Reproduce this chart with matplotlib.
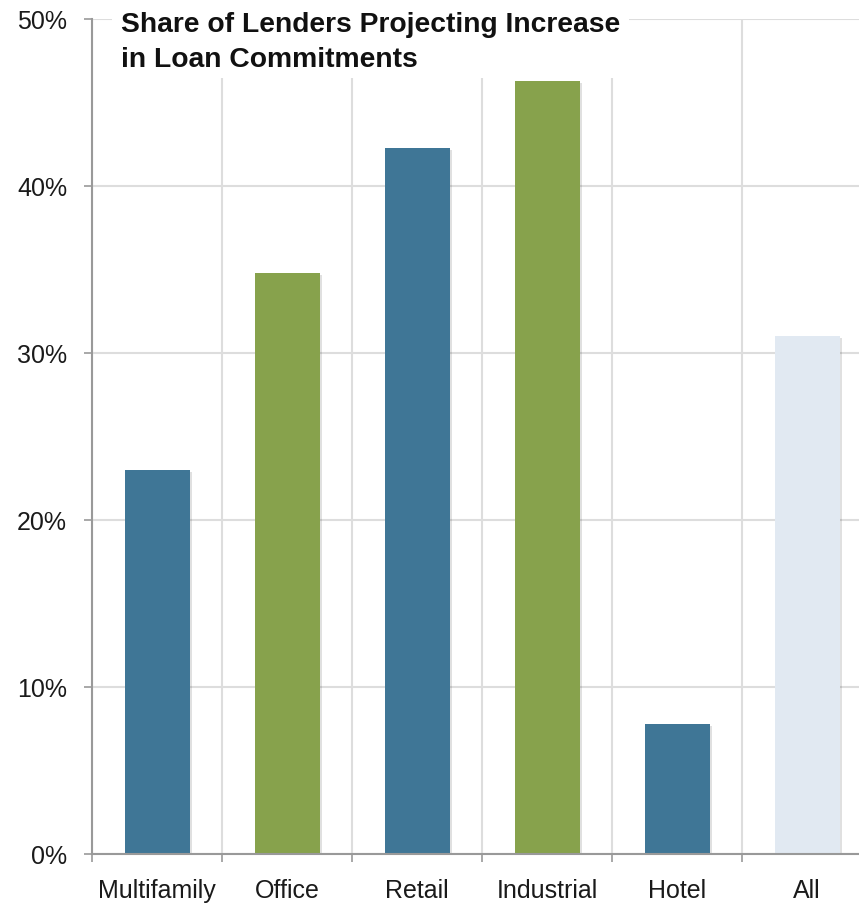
import matplotlib.pyplot as plt
import matplotlib.patheffects as pe
from matplotlib.patches import Rectangle
from matplotlib.ticker import FixedLocator

categories = ["Multifamily", "Office", "Retail", "Industrial", "Hotel", "All"]
values = [23.0, 34.8, 42.3, 46.3, 7.8, 31.0]
colors = ["#3f7696", "#87a24c", "#3f7696", "#87a24c", "#3f7696", "#e1e9f2"]
y_ticks = [0, 10, 20, 30, 40, 50]
title_lines = ["Share of Lenders Projecting Increase", "in Loan Commitments"]

plt.rcParams["font.family"] = ["Liberation Sans", "DejaVu Sans"]

W, H = 859, 904
fig = plt.figure(figsize=(W / 100, H / 100), dpi=100)
ax = fig.add_axes([92 / W, 1 - 855 / H, 1 - 92 / W, (855 - 20) / H])

x = list(range(len(categories)))
bars = ax.bar(x, values, width=0.5, color=colors, zorder=3)
for b in bars:
    b.set_path_effects([pe.SimplePatchShadow(offset=(1.5, -1.5), shadow_rgbFace="#000000", alpha=0.12), pe.Normal()])

ax.set_xlim(-0.5, 5.4)
ax.set_ylim(0, 50)

# boundaries get ticks and grid, centers get labels
ax.xaxis.set_major_locator(FixedLocator([i - 0.5 for i in range(len(categories) + 1)]))
ax.xaxis.set_minor_locator(FixedLocator(x))
ax.set_xticklabels([""] * (len(categories) + 1))
ax.set_xticklabels(categories, minor=True)
ax.tick_params(axis="x", which="major", length=6, width=1.2, color="#999999", direction="out")
ax.tick_params(axis="x", which="minor", length=0, pad=17, labelsize=18, labelcolor="#1a1a1a")

ax.set_yticks(y_ticks)
ax.set_yticklabels([f"{v}%" for v in y_ticks])
ax.tick_params(axis="y", length=6, width=1.2, color="#999999", labelsize=18, labelcolor="#1a1a1a", pad=12)

ax.grid(True, which="major", color="#dddddd", linewidth=1.5, zorder=0)
ax.set_axisbelow(True)

for s in ["top", "right"]:
    ax.spines[s].set_visible(False)
for s in ["left", "bottom"]:
    ax.spines[s].set_color("#999999")
    ax.spines[s].set_linewidth(1.5)
    ax.spines[s].set_zorder(4)

# white patch behind the title hides the grid there
fig.add_artist(Rectangle((112 / W, 1 - 79 / H), (629 - 112) / W, 79 / H,
                         transform=fig.transFigure, facecolor="white", edgecolor="none", zorder=9))
fig.text(121 / W, 1 - 32 / H, title_lines[0], fontsize=20.3, fontweight="bold",
         color="#111111", va="baseline", ha="left", zorder=10)
fig.text(121 / W, 1 - 67 / H, title_lines[1], fontsize=20.3, fontweight="bold",
         color="#111111", va="baseline", ha="left", zorder=10)

plt.savefig("out.png", dpi=100)
